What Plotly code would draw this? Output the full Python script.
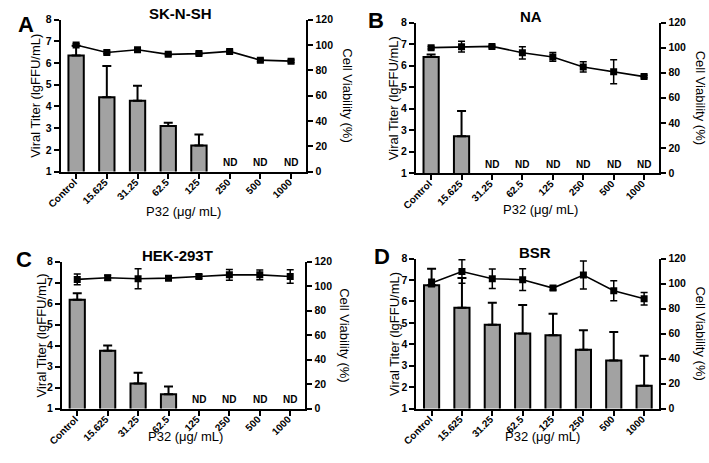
import plotly.graph_objects as go

W, H = 709, 463

categories = ["Control", "15.625", "31.25", "62.5", "125", "250", "500", "1000"]

titles = ["SK-N-SH", "NA", "HEK-293T", "BSR"]
letters = ["A", "B", "C", "D"]

titer_A = [6.35, 4.43, 4.26, 3.10, 2.20, None, None, None]
titer_err_A = [0.45, 1.43, 0.69, 0.15, 0.51, 0, 0, 0]
via_A = [100, 94.1, 96.2, 92.6, 93.2, 94.9, 88.0, 87.2]
via_err_A = [1, 1, 1, 1, 1, 1, 1, 1]

titer_B = [6.40, 2.71, None, None, None, None, None, None]
titer_err_B = [0.12, 1.18, 0, 0, 0, 0, 0, 0]
via_B = [100, 100.8, 101, 95.9, 92.6, 84.6, 80.8, 76.9]
via_err_B = [1, 4.3, 1, 4.9, 3.5, 4.1, 9.5, 1]

titer_C = [6.18, 3.75, 2.19, 1.68, None, None, None, None]
titer_err_C = [0.31, 0.25, 0.51, 0.37, 0, 0, 0, 0]
via_C = [105.4, 106.7, 105.9, 106.4, 107.8, 109.1, 109.1, 107.8]
via_err_C = [4.4, 2, 8.2, 1.5, 1.5, 4.4, 4, 5.5]

titer_D = [6.76, 5.70, 4.91, 4.50, 4.42, 3.74, 3.24, 2.06]
titer_err_D = [0.76, 1.39, 1.03, 1.33, 1.0, 0.91, 1.33, 1.41]
via_D = [100.5, 109.6, 103.9, 103.1, 96.4, 106.8, 94.3, 87.8]
via_err_D = [3, 9.4, 7.8, 8.7, 1.5, 11.2, 8, 5]

nd_A = ["250", "500", "1000"]
nd_B = ["31.25", "62.5", "125", "250", "500", "1000"]
nd_C = ["125", "250", "500", "1000"]
nd_D = []

left_ticks = [1, 2, 3, 4, 5, 6, 7, 8]
right_ticks = [0, 20, 40, 60, 80, 100, 120]

panels = [
    (titer_A, titer_err_A, via_A, via_err_A, nd_A),
    (titer_B, titer_err_B, via_B, via_err_B, nd_B),
    (titer_C, titer_err_C, via_C, via_err_C, nd_C),
    (titer_D, titer_err_D, via_D, via_err_D, nd_D),
]

# plot-area boxes in pixels: (left, right, top, bottom)
boxes = [
    (47.7, 298.3, 14, 170),
    (410, 658.3, 17, 171.5),
    (49, 297.3, 262.3, 413.3),
    (410.5, 658.3, 259.3, 413.3),
]
letter_pos = [(12.5, 18.5), (369, 15), (10, 260), (375, 257)]
title_pos = [(170, 8), (527, 11), (167, 256), (531, 253)]
ltitle_x = [22.5, 387, 28, 388]
rtitle_x = [340, 700, 337.5, 700]
xtitle_pos = [(173, 211), (537, 209), (175, 442), (539, 442)]


def px(x):
    return x / W


def py(y):
    return 1 - y / H


FONT = "Liberation Sans, Arial, sans-serif"
BAR_COLOR = "#a2a2a2"

fig = go.Figure()
annotations = []
layout = {}

for i, (titer, terr, via, verr, nd) in enumerate(panels):
    n = i + 1
    xa = "x" if n == 1 else f"x{n}"
    ya = "y" if n == 1 else f"y{n}"
    ya2 = f"y{n + 4}"
    fig.add_trace(go.Bar(
        x=categories, y=titer, xaxis=xa, yaxis=ya,
        marker=dict(color=BAR_COLOR, line=dict(color="black", width=2)),
        error_y=dict(type="data", array=terr, arrayminus=[0] * len(terr),
                     symmetric=False, color="black", thickness=2, width=4.5),
        showlegend=False,
    ))
    fig.add_trace(go.Scatter(
        x=categories, y=via, xaxis=xa, yaxis=ya2, mode="lines+markers",
        line=dict(color="black", width=1.6),
        marker=dict(symbol="square", size=7, color="black"),
        error_y=dict(type="data", array=verr, color="black", thickness=1.5, width=3.5),
        showlegend=False,
    ))
    l, r, t, b = boxes[i]
    axis_common = dict(showline=True, linecolor="black", linewidth=2,
                       ticks="outside", ticklen=5, tickwidth=2, tickcolor="black",
                       showgrid=False, zeroline=False,
                       tickfont=dict(family=FONT, size=10.5, color="black", weight="bold"))
    xkey = "xaxis" if n == 1 else f"xaxis{n}"
    ykey = "yaxis" if n == 1 else f"yaxis{n}"
    y2key = f"yaxis{n + 4}"
    layout[xkey] = dict(axis_common, domain=[px(l), px(r)], anchor=ya,
                        type="category", categoryorder="array", categoryarray=categories,
                        range=[-0.5, 7.5], tickangle=-45, ticklabelstandoff=-6,
                        ticklabelshift=-2,
                        tickfont=dict(family=FONT, size=10, color="black", weight="bold"))
    layout[ykey] = dict(axis_common, domain=[py(b), py(t)], anchor=xa,
                        range=[1, 8], tickvals=left_ticks)
    layout[y2key] = dict(axis_common, domain=[py(b), py(t)], anchor=xa,
                         overlaying=ya, side="right", range=[0, 120], tickvals=right_ticks)

    for c in nd:
        annotations.append(dict(x=categories.index(c), y=1.42, xref=xa, yref=ya, text="ND",
                                showarrow=False,
                                font=dict(family=FONT, size=10, color="black", weight="bold")))
    lx, ly = letter_pos[i]
    annotations.append(dict(x=px(lx), y=py(ly), xref="paper", yref="paper", text=letters[i],
                            showarrow=False, xanchor="center", yanchor="middle",
                            font=dict(family=FONT, size=22, color="black", weight="bold")))
    tx, ty = title_pos[i]
    annotations.append(dict(x=px(tx), y=py(ty), xref="paper", yref="paper", text=titles[i],
                            showarrow=False, xanchor="center", yanchor="middle",
                            font=dict(family=FONT, size=15, color="black", weight="bold")))
    cy = (t + b) / 2
    annotations.append(dict(x=px(ltitle_x[i]), y=py(cy), xref="paper", yref="paper",
                            text="Viral Titer (lgFFU/mL)", textangle=-90, showarrow=False,
                            xanchor="center", yanchor="middle",
                            font=dict(family=FONT, size=13, color="black")))
    annotations.append(dict(x=px(rtitle_x[i]), y=py(cy), xref="paper", yref="paper",
                            text="Cell Viability (%)", textangle=90, showarrow=False,
                            xanchor="center", yanchor="middle",
                            font=dict(family=FONT, size=13, color="black")))
    xx, xy = xtitle_pos[i]
    annotations.append(dict(x=px(xx), y=py(xy), xref="paper", yref="paper",
                            text="P32 (μg/ mL)", showarrow=False,
                            xanchor="center", yanchor="middle",
                            font=dict(family=FONT, size=13, color="black")))

fig.update_layout(
    width=W, height=H, margin=dict(l=0, r=0, t=0, b=0),
    paper_bgcolor="white", plot_bgcolor="white",
    bargap=0.5, annotations=annotations,
    font=dict(family=FONT, color="black"),
    **layout,
)

fig.write_html("out.html", config={"displayModeBar": False},
               post_script="document.body.style.margin='0';document.body.style.overflow='hidden';")
